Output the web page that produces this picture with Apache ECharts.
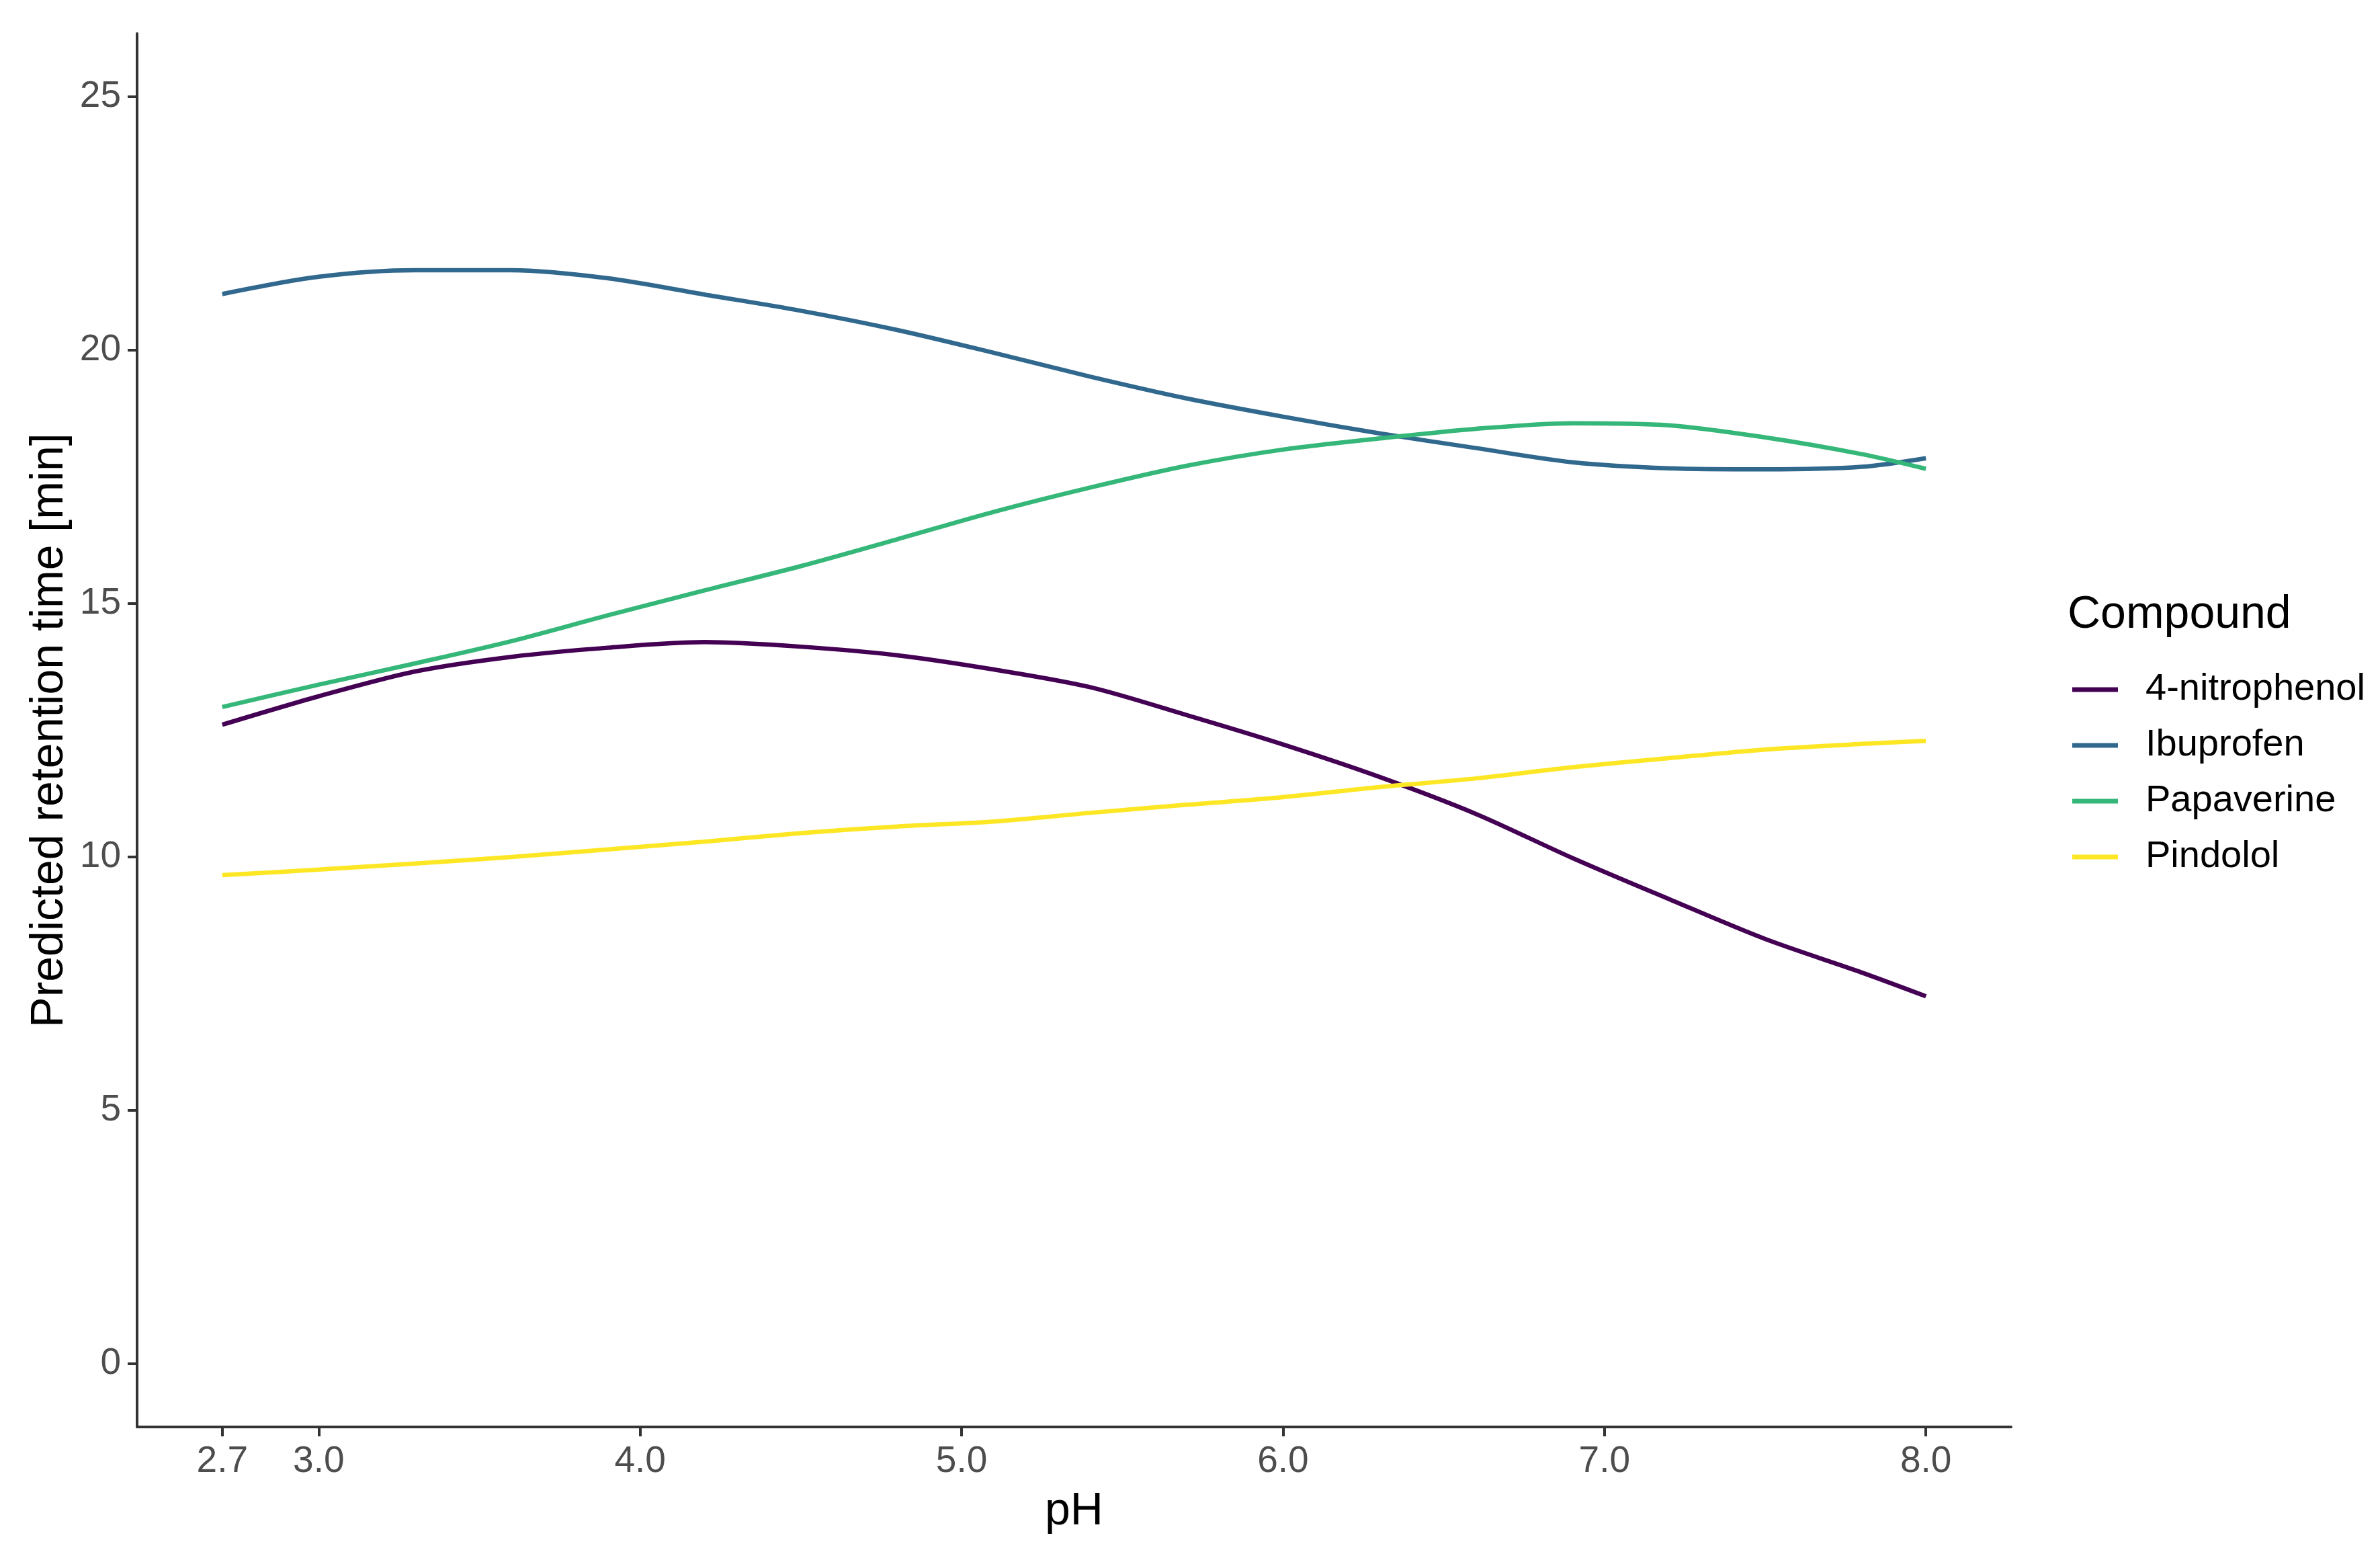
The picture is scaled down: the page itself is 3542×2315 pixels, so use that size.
<!DOCTYPE html>
<html>
<head>
<meta charset="utf-8">
<script src="https://cdn.jsdelivr.net/npm/echarts@6/dist/echarts.min.js"></script>
<style>
html,body{margin:0;padding:0;background:#fff;}
#chart{width:3542px;height:2315px;}
</style>
</head>
<body>
<div id="chart"></div>
<script>
const pH = [2.7, 3.0, 3.3, 3.6, 3.9, 4.2, 4.5, 4.8, 5.1, 5.4, 5.7, 6.0, 6.3, 6.6, 6.9, 7.2, 7.5, 7.8, 8.0];
const nitrophenol = [12.61, 13.17, 13.66, 13.95, 14.13, 14.24, 14.15, 13.98, 13.70, 13.35, 12.80, 12.22, 11.58, 10.85, 9.98, 9.17, 8.38, 7.72, 7.25];
const ibuprofen = [21.11, 21.45, 21.58, 21.58, 21.42, 21.10, 20.78, 20.40, 19.95, 19.48, 19.05, 18.69, 18.36, 18.07, 17.79, 17.67, 17.65, 17.70, 17.87];
const papaverine = [12.96, 13.40, 13.82, 14.26, 14.77, 15.26, 15.74, 16.27, 16.81, 17.29, 17.72, 18.04, 18.26, 18.45, 18.56, 18.52, 18.28, 17.95, 17.66];
const pindolol = [9.64, 9.75, 9.87, 10.00, 10.15, 10.30, 10.47, 10.60, 10.70, 10.87, 11.03, 11.18, 11.38, 11.55, 11.77, 11.95, 12.12, 12.23, 12.29];
const compounds = ['4-nitrophenol', 'Ibuprofen', 'Papaverine', 'Pindolol'];
const colors = ['#440154', '#31688E', '#35B779', '#FDE725'];
const xTicks = [2.7, 3.0, 4.0, 5.0, 6.0, 7.0, 8.0];
const yTicks = [0, 5, 10, 15, 20, 25];

const seriesValues = [nitrophenol, ibuprofen, papaverine, pindolol];
const font = 'Liberation Sans, Arial, sans-serif';

const chart = echarts.init(document.getElementById('chart'), null, {renderer: 'canvas'});
chart.setOption({
  backgroundColor: '#ffffff',
  animation: false,
  color: colors,
  title: {
    text: 'Compound',
    left: 3072,
    top: 876,
    textStyle: {fontFamily: font, fontSize: 68, fontWeight: 'normal', color: '#000'}
  },
  legend: {
    orient: 'vertical',
    left: 3079,
    top: 993,
    itemWidth: 68,
    itemHeight: 7,
    itemGap: 27,
    icon: 'rect',
    data: compounds,
    textStyle: {fontFamily: font, fontSize: 56, color: '#000', lineHeight: 55, padding: [0, 0, 0, 36]}
  },
  grid: {left: 204, top: 50, width: 2789, height: 2073, containLabel: false},
  xAxis: {
    type: 'value',
    min: 2.435,
    max: 8.265,
    name: 'pH',
    nameLocation: 'middle',
    nameGap: 92,
    nameTextStyle: {fontFamily: font, fontSize: 68, color: '#000'},
    axisLine: {show: true, onZero: false, lineStyle: {color: '#333', width: 4}},
    axisTick: {show: true, inside: false, length: 14, lineStyle: {color: '#333', width: 4}, customValues: xTicks},
    axisLabel: {show: true, margin: 24, fontFamily: font, fontSize: 55, color: '#4D4D4D', customValues: xTicks,
      formatter: v => v.toFixed(1)},
    splitLine: {show: false}
  },
  yAxis: {
    type: 'value',
    min: -1.25,
    max: 26.25,
    name: 'Predicted retention time [min]',
    nameLocation: 'middle',
    nameGap: 96,
    nameRotate: 90,
    nameTextStyle: {fontFamily: font, fontSize: 68, color: '#000'},
    axisLine: {show: true, onZero: false, lineStyle: {color: '#333', width: 4}},
    axisTick: {show: true, inside: false, length: 14, lineStyle: {color: '#333', width: 4}, customValues: yTicks},
    axisLabel: {show: true, margin: 24, fontFamily: font, fontSize: 55, color: '#4D4D4D', customValues: yTicks},
    splitLine: {show: false}
  },
  series: compounds.map((name, i) => ({
    name: name,
    type: 'line',
    data: pH.map((x, j) => [x, seriesValues[i][j]]),
    smooth: 0.3,
    showSymbol: false,
    lineStyle: {width: 6.5, color: colors[i]},
    itemStyle: {color: colors[i]},
    z: 2 + i
  }))
});
</script>
</body>
</html>
